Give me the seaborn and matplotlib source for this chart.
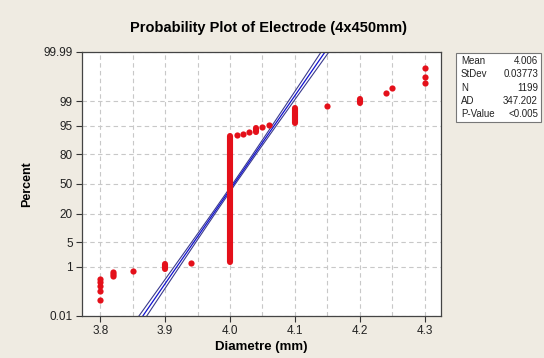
import numpy as np
import pandas as pd
import matplotlib
matplotlib.use("Agg")
import matplotlib.pyplot as plt
import seaborn as sns
from matplotlib.patches import Rectangle
from statistics import NormalDist

# single plotted observations (diameter, percent)
dot_x = [3.8, 3.8, 3.8, 3.8, 3.8, 3.82, 3.82, 3.82, 3.85, 3.94,
         4.01, 4.02, 4.03, 4.05, 4.06, 4.15, 4.24, 4.25, 4.3, 4.3, 4.3]
dot_pct = [0.054, 0.13, 0.21, 0.29, 0.37, 0.48, 0.56, 0.64, 0.73, 1.31,
           91.6, 92.2, 92.9, 94.7, 95.2, 98.6, 99.47, 99.67, 99.78, 99.87, 99.944]

# tied values that form a solid column of dots
run_x = [3.9, 4.0, 4.04, 4.1, 4.2]
run_lo = [0.81, 1.39, 93.0, 95.7, 98.85]
run_hi = [1.22, 91.3, 94.3, 98.33, 99.15]

# fitted normal
mean = 4.006
stdev = 0.03773
n = 1199
ad = 347.202

y_ticks = [0.01, 1, 5, 20, 50, 80, 95, 99, 99.99]
y_labels = ["0.01", "1", "5", "20", "50", "80", "95", "99", "99.99"]
x_ticks = [3.8, 3.9, 4.0, 4.1, 4.2, 4.3]

nd = NormalDist()
_ppf = np.vectorize(lambda p: nd.inv_cdf(min(max(p / 100.0, 1e-12), 1 - 1e-12)),
                    otypes=[float])
_cdf = np.vectorize(lambda z: nd.cdf(z) * 100.0, otypes=[float])


def fwd(p):
    return _ppf(np.asarray(p, dtype=float))


def inv(z):
    return _cdf(np.asarray(z, dtype=float))


plt.rcParams["font.family"] = ["Liberation Sans", "DejaVu Sans"]
bg = "#EFEBE2"
red = "#E4101A"

fig = plt.figure(figsize=(5.44, 3.58), dpi=100, facecolor=bg)
ax = fig.add_axes([82 / 544, 1 - 316 / 358, (441 - 82) / 544, (316 - 52) / 358])
ax.set_facecolor("white")
ax.set_yscale("function", functions=(fwd, inv))

# fit line with confidence bands
pp = np.array([0.01, 0.1, 1, 5, 20, 50, 80, 95, 99, 99.9, 99.99])
zz = fwd(pp)
xf = mean + zz * stdev
se = stdev * np.sqrt((1 + zz ** 2 / 2) / n)
fit = pd.DataFrame({"x": xf, "p": pp})
ax.plot(xf - 1.96 * se, pp, color="#3A3A8C", lw=0.8)
ax.plot(xf + 1.96 * se, pp, color="#3A3A8C", lw=0.8)
sns.lineplot(data=fit, x="x", y="p", ax=ax, color="#1010D0", lw=0.9, sort=False)

# data
for x, lo, hi in zip(run_x, run_lo, run_hi):
    ax.plot([x, x], [lo, hi], color=red, lw=4.4, solid_capstyle="round", zorder=4)
pts = pd.DataFrame({"x": dot_x, "p": dot_pct})
sns.scatterplot(data=pts, x="x", y="p", ax=ax, color=red, s=20, edgecolor=red,
                linewidth=0, zorder=5)

ax.set_yticks(y_ticks)
ax.set_yticklabels(y_labels)
ax.yaxis.set_minor_locator(matplotlib.ticker.NullLocator())
ax.set_xticks(x_ticks)
ax.set_xticklabels([f"{v:.1f}" for v in x_ticks])
ax.set_xticks(np.arange(3.85, 4.3, 0.1), minor=True)
ax.set_xlim(3.772, 4.325)
ax.set_ylim(0.01, 99.99)
ax.tick_params(axis="both", which="major", labelsize=8.5, length=4, width=0.8,
               color="#333333", labelcolor="#222222", pad=2.5)
ax.tick_params(axis="x", which="minor", length=0)
ax.grid(True, which="both", axis="x", color="#C8C8C8", ls=(0, (4, 3)), lw=0.8)
ax.grid(True, which="major", axis="y", color="#C8C8C8", ls=(0, (4, 3)), lw=0.8)
ax.set_axisbelow(True)
for s in ax.spines.values():
    s.set_color("#444444")
    s.set_linewidth(0.9)

ax.set_xlabel("Diametre (mm)", fontsize=9.5, fontweight="bold", labelpad=3)
ax.set_ylabel("Percent", fontsize=9, fontweight="bold")
ax.yaxis.set_label_coords(-0.137, 0.5)
fig.text(268 / 544, 1 - 28 / 358, "Probability Plot of Electrode (4x450mm)",
         ha="center", va="center", fontsize=10.5, fontweight="bold")

# stats box
fig.add_artist(Rectangle((456 / 544, 1 - 122 / 358), 85 / 544, 69 / 358,
                         transform=fig.transFigure, facecolor="white",
                         edgecolor="#777777", lw=0.8))
names = ["Mean", "StDev", "N", "AD", "P-Value"]
vals = [f"{mean:.3f}", f"{stdev:.5f}", f"{n}", f"{ad:.3f}", "<0.005"]
for i, (k, v) in enumerate(zip(names, vals)):
    yy = 1 - (61 + i * 13.3) / 358
    fig.text(461 / 544, yy, k, fontsize=7, ha="left", va="center", color="#222222")
    fig.text(538 / 544, yy, v, fontsize=7, ha="right", va="center", color="#222222")

fig.savefig("out.png", dpi=100, facecolor=bg)
